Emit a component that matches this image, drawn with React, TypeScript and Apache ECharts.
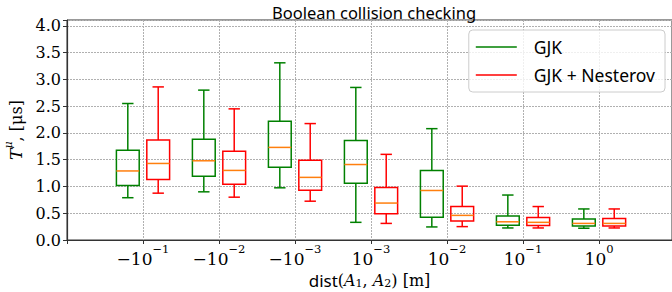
import React, { useEffect, useRef } from "react";
import * as echarts from "echarts";

// tick labels of the categories (base and exponent)
const tickBase = ["−10", "−10", "−10", "10", "10", "10", "10"];
const tickExp = ["−1", "−2", "−3", "−3", "−2", "−1", "0"];

// [low whisker, Q1, median, Q3, high whisker] per category
const gjkStats = [
  [0.79, 1.02, 1.29, 1.675, 2.55],
  [0.9, 1.19, 1.48, 1.88, 2.8],
  [0.975, 1.36, 1.73, 2.22, 3.31],
  [0.33, 1.06, 1.41, 1.86, 2.85],
  [0.244, 0.425, 0.925, 1.3, 2.08],
  [0.225, 0.275, 0.34, 0.45, 0.84],
  [0.22, 0.26, 0.31, 0.39, 0.58],
];
const nesterovStats = [
  [0.875, 1.13, 1.43, 1.87, 2.86],
  [0.8, 1.04, 1.3, 1.66, 2.45],
  [0.725, 0.93, 1.17, 1.49, 2.175],
  [0.31, 0.49, 0.69, 0.98, 1.6],
  [0.25, 0.356, 0.46, 0.625, 1.006],
  [0.225, 0.27, 0.33, 0.42, 0.625],
  [0.225, 0.26, 0.31, 0.4, 0.58],
];

const seriesNames = ["GJK", "GJK + Nesterov"];
const seriesColors = ["#008000", "#ff0000"];
const MEDIAN_COLOR = "#ff7f0e";
const BOX_W = 0.3;
const OFFSET = 0.2;

function makeRender(offset: number, color: string) {
  return (params: any, api: any) => {
    const x = api.value(0) + offset;
    const lo = api.coord([x, api.value(1)]);
    const q1 = api.coord([x, api.value(2)]);
    const md = api.coord([x, api.value(3)]);
    const q3 = api.coord([x, api.value(4)]);
    const hi = api.coord([x, api.value(5)]);
    const w = api.size([BOX_W, 0])[0];
    const cx = lo[0];
    const cap = w / 4;
    const ls = { stroke: color, lineWidth: 1.5, fill: "none" };
    return {
      type: "group",
      children: [
        { type: "line", shape: { x1: cx, y1: q1[1], x2: cx, y2: lo[1] }, style: ls },
        { type: "line", shape: { x1: cx, y1: q3[1], x2: cx, y2: hi[1] }, style: ls },
        { type: "line", shape: { x1: cx - cap, y1: lo[1], x2: cx + cap, y2: lo[1] }, style: ls },
        { type: "line", shape: { x1: cx - cap, y1: hi[1], x2: cx + cap, y2: hi[1] }, style: ls },
        {
          type: "rect",
          shape: { x: cx - w / 2, y: q3[1], width: w, height: q1[1] - q3[1] },
          style: { stroke: color, lineWidth: 1.5, fill: "none" },
        },
        {
          type: "line",
          shape: { x1: cx - w / 2, y1: md[1], x2: cx + w / 2, y2: md[1] },
          style: { stroke: MEDIAN_COLOR, lineWidth: 1.5 },
        },
      ],
    };
  };
}

const SERIF = "'DejaVu Serif', 'Liberation Serif', serif";
const SANS = "'Noto Sans', 'DejaVu Sans', sans-serif";

export default function App() {
  const ref = useRef<HTMLDivElement>(null);
  useEffect(() => {
    if (!ref.current) return;
    const chart = echarts.init(ref.current, undefined, { renderer: "svg" });
    const stats = [gjkStats, nesterovStats];
    const offsets = [-OFFSET, OFFSET];
    chart.setOption({
      animation: false,
      title: {
        text: "Boolean collision checking",
        left: 369,
        textAlign: "center",
        top: -1,
        textStyle: { fontFamily: SANS, fontSize: 16.5, fontWeight: "normal", color: "#000" },
      },
      legend: {
        orient: "vertical",
        right: 7,
        top: 30,
        width: 203,
        data: seriesNames.map((n, i) => ({ name: n, icon: "rect", itemStyle: { color: seriesColors[i] } })),
        itemWidth: 41,
        itemHeight: 1.5,
        itemGap: 10,
        padding: [8, 10, 8, 7],
        backgroundColor: "rgba(255,255,255,0.8)",
        borderColor: "#cccccc",
        borderWidth: 1,
        borderRadius: 4,
        textStyle: { fontFamily: SANS, fontSize: 17.5, color: "#000", padding: [0, 0, 0, 12], lineHeight: 18 },
      },
      grid: {
        left: 67, right: 0, top: 20, bottom: 52,
        outerBoundsMode: "none",
        show: true, borderColor: "#333", borderWidth: 1, backgroundColor: "transparent",
      },
      xAxis: {
        type: "value",
        min: 0,
        max: 7.96,
        interval: 1,
        name: "{sf|dist}{n|(}{a|A}{sub|1}{n|, }{a|A}{sub|2}{n|) [m]}",
        nameLocation: "middle",
        nameGap: 27,
        nameTextStyle: {
          rich: {
            sf: { fontFamily: SANS, fontSize: 17, color: "#000", lineHeight: 20, verticalAlign: "bottom" },
            n: { fontFamily: SERIF, fontSize: 16, color: "#000", lineHeight: 20, verticalAlign: "bottom" },
            a: { fontFamily: SERIF, fontSize: 16, fontStyle: "italic", color: "#000", lineHeight: 20, verticalAlign: "bottom" },
            sub: { fontFamily: SERIF, fontSize: 11, color: "#000", lineHeight: 14, verticalAlign: "bottom" },
          },
        },
        axisLine: { show: true, lineStyle: { color: "#333", width: 1.2 } },
        axisTick: { show: true, length: 4, lineStyle: { color: "#333" } },
        splitLine: { show: true, lineStyle: { color: "#b0b0b0", type: [2, 1], width: 1 } },
        axisLabel: {
          margin: 3,
          formatter: (v: number) => {
            const r = Math.round(v);
            if (Math.abs(v - r) > 1e-6) return "";
            const i = r - 1;
            if (i < 0 || i >= tickBase.length) return "";
            return `{b|${tickBase[i]}}{s|${tickExp[i]}}`;
          },
          rich: {
            b: { fontFamily: SERIF, fontSize: 17, color: "#000", lineHeight: 24, verticalAlign: "bottom" },
            s: { fontFamily: SERIF, fontSize: 11.5, color: "#000", lineHeight: 14, verticalAlign: "top" },
          },
        },
      },
      yAxis: {
        type: "value",
        min: 0,
        max: 4.11,
        interval: 0.5,
        name: "{i|T}{s|μ}{n|, [μs]}",
        nameLocation: "middle",
        nameRotate: 90,
        nameGap: 42,
        nameTextStyle: {
          rich: {
            i: { fontFamily: SERIF, fontSize: 17, fontStyle: "italic", color: "#000", lineHeight: 22, verticalAlign: "bottom" },
            s: { fontFamily: SERIF, fontSize: 11, fontStyle: "italic", color: "#000", lineHeight: 13, verticalAlign: "top" },
            n: { fontFamily: SERIF, fontSize: 16, color: "#000", lineHeight: 22, verticalAlign: "bottom" },
          },
        },
        axisLine: { show: true, lineStyle: { color: "#333", width: 1.2 } },
        axisTick: { show: true, length: 4, lineStyle: { color: "#333" } },
        splitLine: { show: true, lineStyle: { color: "#b0b0b0", type: [2, 1], width: 1 } },
        axisLabel: {
          margin: 6,
          fontFamily: SERIF,
          fontSize: 16,
          color: "#000",
          formatter: (v: number) => {
            const r = Math.round(v * 2);
            if (Math.abs(v * 2 - r) > 1e-6) return "";
            return v.toFixed(1);
          },
        },
      },
      series: seriesNames.map((name, si) => ({
        name,
        type: "custom",
        itemStyle: { color: seriesColors[si] },
        renderItem: makeRender(offsets[si], seriesColors[si]),
        encode: { x: 0, y: [1, 2, 3, 4, 5] },
        data: stats[si].map((s, i) => [i + 1, ...s]),
        z: 3,
      })),
    });
    return () => chart.dispose();
  }, []);
  return <div ref={ref} style={{ width: 672, height: 292, position: "absolute", left: 0, top: 0 }} />;
}
